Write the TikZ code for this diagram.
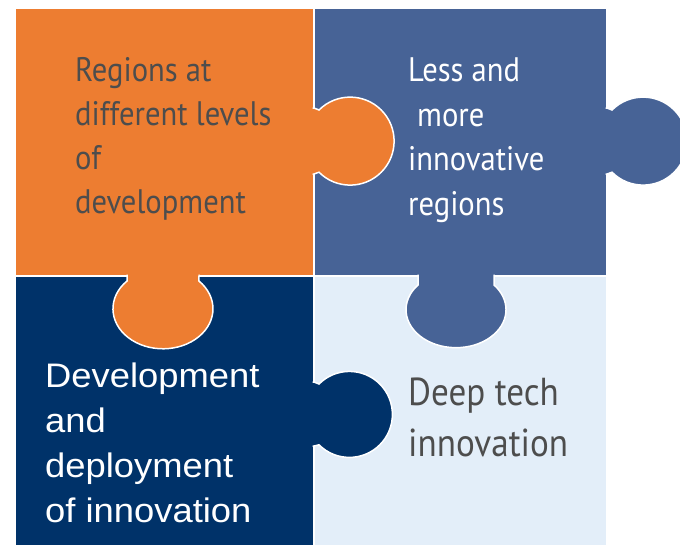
\documentclass[tikz,border=0pt]{standalone}
\usepackage{xcolor}
\usepackage{tikz}
\usepackage{fontspec}
\newfontfamily\squaresans{PT Sans}[FakeStretch=0.9]
\newfontfamily\arialsans{Liberation Sans}[FakeStretch=1.07]
\definecolor{pieceorange}{RGB}{237,125,49}
\definecolor{pieceblue}{RGB}{71,99,150}
\definecolor{piecenavy}{RGB}{0,50,105}
\definecolor{piecelight}{RGB}{227,238,249}
\definecolor{textgray}{RGB}{77,77,77}

\begin{document}
\begin{tikzpicture}[x=1pt,y=-1pt]
            \tikzstyle{piece}=[draw=white, line width=2pt];
            \tikzstyle{knob}=[draw=white, line width=1.5pt];
            \tikzstyle{piecetext}=[anchor=base west, align=left, inner sep=0pt];
            % Fix the page to the size of the picture
            \clip (0,0) rectangle (680,544);
            \fill[white] (0,0) rectangle (680,544);

            % Draw the four square pieces
            \draw[piece, fill=pieceorange] (15,8) rectangle (314,276);
            \draw[piece, fill=pieceblue] (314,8) rectangle (607,276);
            \draw[piece, fill=piecenavy] (15,276) rectangle (314,550);
            \draw[piece, fill=piecelight] (314,276) rectangle (607,550);

            % Draw the knobs on top of the neighbouring pieces
            \draw[knob, fill=pieceorange] (312.5,108) -- (314,108) -- (319,110) arc[start angle=225, end angle=495, radius=44] -- (314,174) -- (312.5,174);
            \draw[knob, fill=pieceorange] (127,274.5) -- (127,276) -- (127,281) arc[start angle=224, end angle=-44, x radius=50, y radius=40] -- (199,276) -- (199,274.5);
            \draw[knob, fill=pieceblue] (605.5,108) -- (607,108) -- (612,110) arc[start angle=225, end angle=495, radius=44] -- (607,174) -- (605.5,174);
            \draw[knob, fill=pieceblue] (418,274.5) -- (418,276) -- (418,285) arc[start angle=220.5, end angle=-40.5, x radius=50, y radius=38] -- (494,276) -- (494,274.5);
            \draw[knob, fill=piecenavy] (312.5,382) -- (314,382) -- (319,384) arc[start angle=225, end angle=495, radius=43] -- (314,446) -- (312.5,446);

            % Write the texts of the pieces (placed by their last line)
            \node[piecetext, text=textgray, font=\squaresans\fontsize{34}{44}\selectfont] (levels) at (75,213) {Regions at\\different levels\\of\\development};
            \node[piecetext, text=white, font=\squaresans\fontsize{34}{44.4}\selectfont] (innovative) at (408,215) {Less and\\\hspace*{9pt}more\\innovative\\regions};
            \node[piecetext, text=white, font=\arialsans\fontsize{34}{44.7}\selectfont] (deployment) at (45,522) {Development\\and\\deployment\\of innovation};
            \node[piecetext, text=textgray, font=\squaresans\fontsize{39}{51}\selectfont] (deeptech) at (408,456) {Deep tech\\innovation};
        \end{tikzpicture}
\end{document}
